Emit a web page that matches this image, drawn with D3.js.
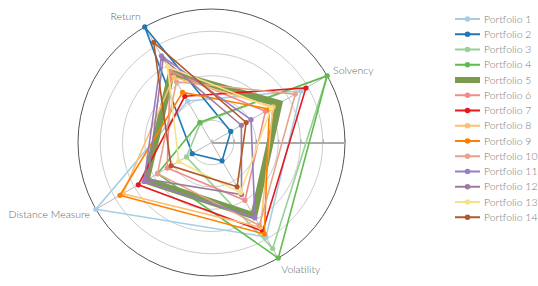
<!DOCTYPE html>
<html>
<head>
<meta charset="utf-8">
<script src="https://cdn.jsdelivr.net/npm/d3@7"></script>
<style>
	body { margin: 0; background: #fff; }
	svg { display: block; font-family: Lato, sans-serif; font-weight: 300; }
</style>
</head>
<body>
<div class="graphic__radar"></div>
<script>
const axes = ['Return', 'Solvency', 'Volatility', 'Distance Measure']
const portfolios = d3.range(1, 15).map(i => 'Portfolio ' + i)

// one value per portfolio
const returnVals     = [2.15, 6.0, 1.0, 1.05, 3.6, 3.7, 2.4, 3.4, 2.6, 3.15, 4.5, 4.35, 3.95, 5.2]
const solvencyVals   = [4.65, 1.0, 6.0, 6.0, 3.5, 2.8, 4.9, 3.2, 3.0, 4.35, 2.05, 1.55, 3.1, 1.8]
const volatilityVals = [4.9, 0.95, 5.5, 6.0, 3.8, 3.0, 4.6, 4.4, 4.75, 4.3, 3.9, 2.7, 2.6, 2.3]
const distanceVals   = [6.0, 1.0, 1.3, 2.8, 3.4, 2.3, 3.8, 4.6, 4.75, 2.8, 3.5, 3.3, 1.7, 2.1]
const radialTicks = [0, 1, 2, 3, 4, 5, 6]

const colors = ['#a6cee3', '#1f78b4', '#98d095', '#62bb4e', '#7a9a4e', '#f4898a', '#e31a1c',
	'#fdbf6f', '#ff7f00', '#e8a28a', '#9b7bc4', '#9c7a9c', '#f5e38a', '#b15928']

const width = 538
const height = 286
const cx = 211.5
const cy = 142.5
const radius = 133.5

const svg = d3.select('.graphic__radar').append('svg')
	.attr('width', width)
	.attr('height', height)

const g = svg.append('g').attr('transform', `translate(${cx},${cy})`)

const scale = {
	r: d3.scaleLinear().domain([0, 6]).range([0, radius]),
}
// spokes start 30deg left of 12 o'clock and go round clockwise
const angle = name => -Math.PI / 6 + axes.indexOf(name) * Math.PI / 2

const data = portfolios.map((name, i) => ({
	name,
	color: colors[i],
	values: [returnVals[i], solvencyVals[i], volatilityVals[i], distanceVals[i]]
		.map((v, j) => ({ axis: axes[j], value: v })),
}))

// grid circles
g.selectAll('.grid')
	.data(radialTicks.slice(1))
	.enter().append('circle')
		.attr('class', 'grid')
		.attr('r', d => scale.r(d))
		.attr('fill', 'none')
		.attr('stroke', d => d === 6 ? '#555' : '#ccc')
		.attr('stroke-width', 1)

// spokes
g.selectAll('.spoke')
	.data(axes)
	.enter().append('line')
		.attr('class', 'spoke')
		.attr('x2', d => scale.r(6) * Math.sin(angle(d)))
		.attr('y2', d => -scale.r(6) * Math.cos(angle(d)))
		.attr('stroke', '#bbb')
		.attr('stroke-width', 1)

// radial axis along the horizontal
g.append('g')
	.attr('class', 'axis--r')
	.call(d3.axisTop(scale.r).tickValues(radialTicks).tickFormat('').tickSize(3).tickSizeOuter(0))
	.call(a => a.select('.domain').attr('stroke', '#aaa').attr('stroke-width', 2))
	.call(a => a.selectAll('.tick line').attr('stroke', '#999'))

const line = d3.lineRadial()
	.angle(d => angle(d.axis))
	.radius(d => scale.r(d.value))
	.curve(d3.curveLinearClosed)

const series = g.selectAll('.series')
	.data(data)
	.enter().append('g')
		.attr('class', 'series')

series.append('path')
	.attr('d', d => line(d.values))
	.attr('fill', 'none')
	.attr('stroke', d => d.color)
	.attr('stroke-width', (d, i) => i === 4 ? 7 : 1.6)
	.attr('stroke-linejoin', 'miter')

series.filter((d, i) => i !== 4).selectAll('circle')
	.data(d => d.values.map(v => ({ ...v, color: d.color })))
	.enter().append('circle')
		.attr('cx', d => scale.r(d.value) * Math.sin(angle(d.axis)))
		.attr('cy', d => -scale.r(d.value) * Math.cos(angle(d.axis)))
		.attr('r', 2.6)
		.attr('fill', d => d.color)

// axis labels
const labelPos = {
	'Return': { dx: -4, dy: -7, anchor: 'end' },
	'Solvency': { dx: 6, dy: -2, anchor: 'start' },
	'Volatility': { dx: 3, dy: 15, anchor: 'start' },
	'Distance Measure': { dx: -6, dy: 9, anchor: 'end' },
}
g.selectAll('.axis-label')
	.data(axes)
	.enter().append('text')
		.attr('class', 'axis-label')
		.attr('x', d => scale.r(6) * Math.sin(angle(d)) + labelPos[d].dx)
		.attr('y', d => -scale.r(6) * Math.cos(angle(d)) + labelPos[d].dy)
		.attr('text-anchor', d => labelPos[d].anchor)
		.attr('font-size', 10.5)
		.attr('fill', '#666')
		.text(d => d)

// legend
const legend = svg.append('g')
	.attr('class', 'legend')
	.selectAll('g')
	.data(data)
	.enter().append('g')
		.attr('transform', (d, i) => `translate(455,${19 + i * 15.25})`)

legend.append('line')
	.attr('x2', 25)
	.attr('stroke', d => d.color)
	.attr('stroke-width', (d, i) => i === 4 ? 6 : 2)

legend.filter((d, i) => i !== 4).append('circle')
	.attr('cx', 12.5)
	.attr('r', 2.8)
	.attr('fill', d => d.color)

legend.append('text')
	.attr('x', 29)
	.attr('dy', '0.35em')
	.attr('font-size', 10.5)
	.attr('fill', '#777')
	.text(d => d.name)
</script>
</body>
</html>
